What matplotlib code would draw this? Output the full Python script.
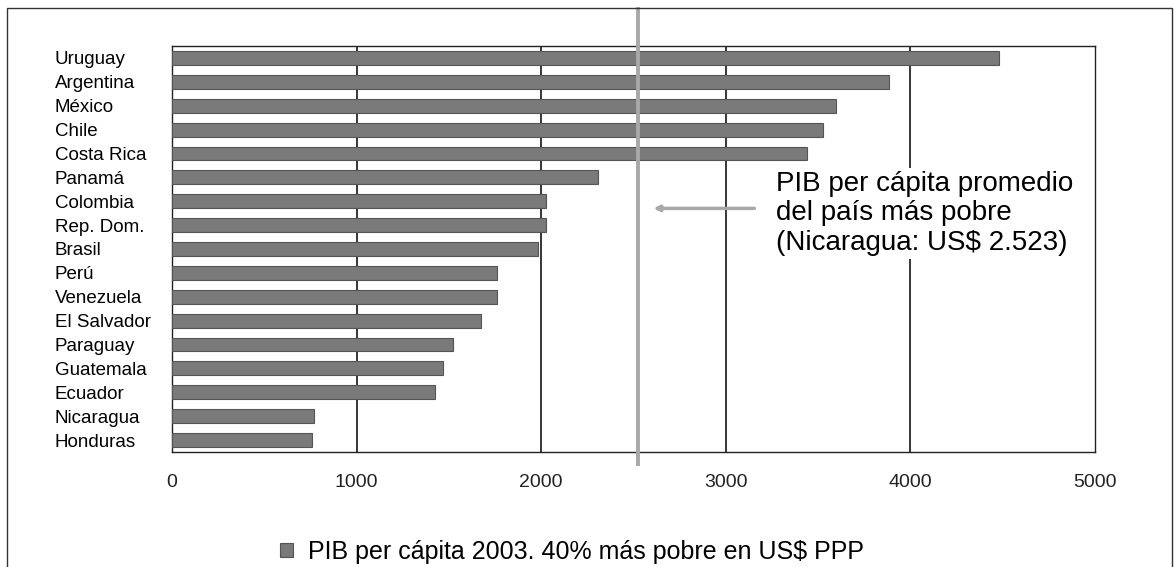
import matplotlib.pyplot as plt
from matplotlib.patches import Rectangle

plt.rcParams['font.family'] = ['Liberation Sans', 'DejaVu Sans']

# data, top to bottom as in the chart
paises = ['Uruguay', 'Argentina', 'México', 'Chile', 'Costa Rica', 'Panamá',
          'Colombia', 'Rep. Dom.', 'Brasil', 'Perú', 'Venezuela', 'El Salvador',
          'Paraguay', 'Guatemala', 'Ecuador', 'Nicaragua', 'Honduras']
pib = [4482, 3886, 3599, 3528, 3442, 2309, 2027, 2027, 1984, 1762, 1762,
       1675, 1523, 1469, 1425, 770, 759]
nicaragua_prom = 2523
xticks = [0, 1000, 2000, 3000, 4000, 5000]

fig = plt.figure(figsize=(11.75, 5.67), dpi=100)
ax = fig.add_axes([172 / 1175, 1 - 452 / 567, (1095 - 172) / 1175, (452 - 46) / 567])

ypos = list(range(len(paises)))
ax.barh(ypos, pib, height=0.58, color='#7a7a7a', edgecolor='#555555',
        linewidth=0.8, zorder=3, label='PIB per cápita 2003. 40% más pobre en US$ PPP')
ax.set_ylim(len(paises) - 0.5, -0.5)
ax.set_xlim(0, 5000)
ax.set_xticks(xticks)
ax.set_xticklabels([str(t) for t in xticks], fontsize=14)
ax.tick_params(axis='x', length=0, pad=16, colors='#222222')
ax.set_yticks(ypos)
ax.set_yticklabels(paises, fontsize=13.5, ha='left')
ax.tick_params(axis='y', length=0, pad=(172 - 55) * 0.72)
for t in xticks[1:-1]:
    ax.axvline(t, color='black', linewidth=1.1, zorder=1)
for s in ax.spines.values():
    s.set_linewidth(1.0)
    s.set_color('#222222')

# reference line for poorest country
ax.axvline(nicaragua_prom, ymin=-0.03, ymax=1.09, color='#a8a8a8', linewidth=2.8,
           zorder=4, clip_on=False)
ax.annotate('', xy=(nicaragua_prom + 70, 6.3), xytext=(3170, 6.3),
            arrowprops=dict(arrowstyle='-|>', color='#a8a8a8', lw=2.5,
                            mutation_scale=8), zorder=5)
ax.text(3270, 6.5, 'PIB per cápita promedio\ndel país más pobre\n(Nicaragua: US$ 2.523)',
        fontsize=20, va='center', ha='left', linespacing=1.18, zorder=6,
        bbox=dict(facecolor='white', edgecolor='none', pad=2))

leg = fig.legend(loc='center', bbox_to_anchor=(572 / 1175, 1 - 552 / 567),
                 frameon=False, fontsize=18, handlelength=0.5, handleheight=0.5,
                 handletextpad=0.6)

# outer border of the figure
fig.patches.append(Rectangle((7 / 1175, -0.01), (1172 - 7) / 1175, 1 - 8 / 567 + 0.01,
                             transform=fig.transFigure, fill=False,
                             edgecolor='#333333', linewidth=1.0))

fig.savefig('out.png', dpi=100)
